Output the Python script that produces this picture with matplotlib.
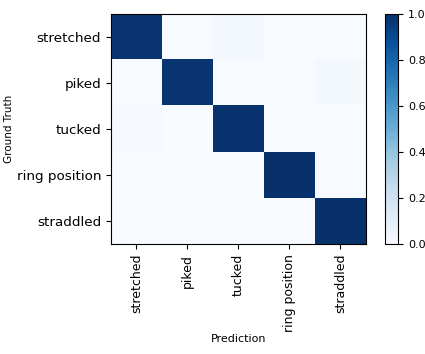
import numpy as np
import matplotlib
matplotlib.use("Agg")
import matplotlib.pyplot as plt

classes = ["stretched", "piked", "tucked", "ring position", "straddled"]

# confusion matrix rows = ground truth, cols = prediction
row_stretched = [0.98, 0.00, 0.02, 0.00, 0.00]
row_piked = [0.00, 0.98, 0.00, 0.00, 0.02]
row_tucked = [0.01, 0.00, 0.99, 0.00, 0.00]
row_ring = [0.00, 0.00, 0.00, 1.00, 0.00]
row_straddled = [0.00, 0.00, 0.00, 0.00, 1.00]

cm = np.array([row_stretched, row_piked, row_tucked, row_ring, row_straddled])

fig = plt.figure(figsize=(4.25, 3.54), dpi=100)
ax = fig.add_axes([0.261, 0.311, 0.6, 0.65])
cax = fig.add_axes([0.905, 0.311, 0.032, 0.65])

im = ax.imshow(cm, cmap="Blues", vmin=0, vmax=1, aspect="auto", interpolation="nearest")
cb = fig.colorbar(im, cax=cax)
cb.ax.tick_params(labelsize=8)

ax.set_xticks(range(len(classes)))
ax.set_yticks(range(len(classes)))
ax.set_xticklabels(classes, rotation=90, fontsize=9)
ax.set_yticklabels(classes, fontsize=9.7)
ax.set_xlabel("Prediction", fontsize=8, labelpad=2)
ax.set_ylabel("Ground Truth", fontsize=7.5, labelpad=2)

plt.savefig("out.png", dpi=100)
